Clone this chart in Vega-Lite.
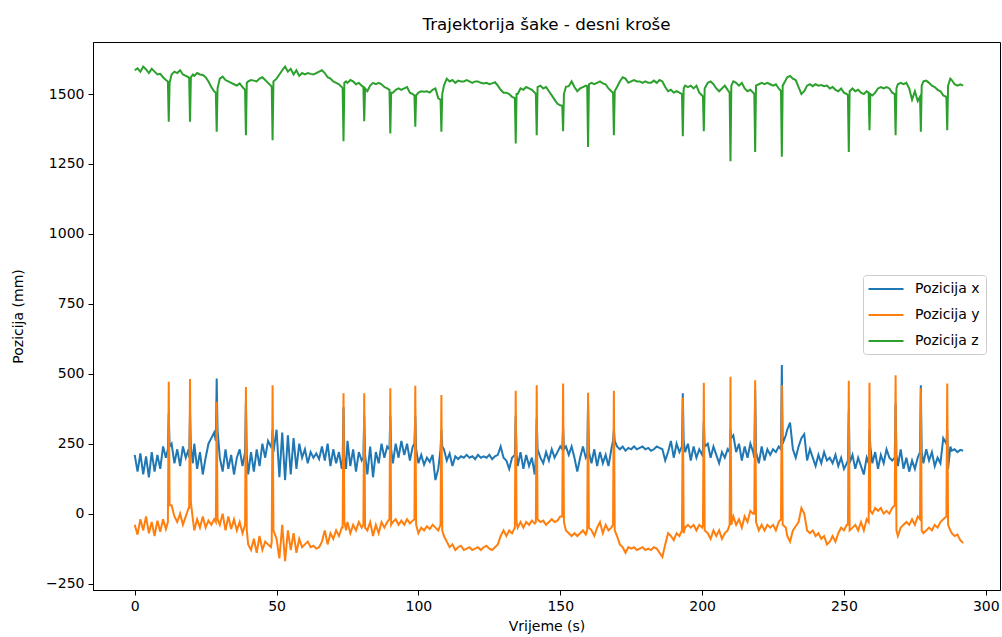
{
  "$schema": "https://vega.github.io/schema/vega-lite/v6.json",
  "width": 907,
  "height": 548,
  "autosize": "none",
  "padding": {"left": 93, "top": 42, "right": 2, "bottom": 47},
  "background": "white",
  "config": {
    "font": "DejaVu Sans",
    "view": {"stroke": "black", "strokeWidth": 1},
    "axis": {"grid": false, "domainColor": "black", "tickColor": "black", "tickSize": 5, "labelFontSize": 14, "labelColor": "black", "labelFont": "DejaVu Sans", "labelPadding": 4, "titleFontSize": 14, "titleFontWeight": "normal", "titleColor": "black", "titleFont": "DejaVu Sans"},
    "title": {"fontSize": 16.7, "fontWeight": "normal", "color": "black", "font": "DejaVu Sans", "offset": 8}
  },
  "title": {"text": "Trajektorija šake - desni kroše"},
  "data": {"values": [
    {"t":0,"x":210,"y":-40,"z":1585},{"t":1,"x":150,"y":-75,"z":1592},{"t":2,"x":215,"y":-20,"z":1580},{"t":3,"x":140,"y":-60,"z":1598},{"t":4,"x":205,"y":-10,"z":1588},{"t":5,"x":130,"y":-70,"z":1575},{"t":6,"x":220,"y":-30,"z":1590},{"t":7,"x":150,"y":-80,"z":1580},{"t":8,"x":210,"y":-25,"z":1570},{"t":9,"x":160,"y":-65,"z":1572},{"t":10,"x":240,"y":-20,"z":1560},{"t":11,"x":200,"y":-55,"z":1550},
    {"t":11.7,"x":230,"y":-30,"z":1545},{"t":12,"x":358,"y":471,"z":1401},{"t":12.3,"x":240,"y":30,"z":1540},
    {"t":13,"x":250,"y":30,"z":1570},{"t":14,"x":180,"y":-10,"z":1580},{"t":15,"x":230,"y":-30,"z":1575},{"t":16,"x":170,"y":0,"z":1585},{"t":17,"x":240,"y":-40,"z":1570},{"t":18,"x":200,"y":-10,"z":1565},{"t":19,"x":230,"y":20,"z":1560},
    {"t":19.2,"x":200,"y":20,"z":1555},{"t":19.5,"x":358,"y":481,"z":1401},{"t":19.8,"x":240,"y":40,"z":1560},
    {"t":20.5,"x":180,"y":-20,"z":1570},{"t":21,"x":250,"y":-60,"z":1565},{"t":22,"x":160,"y":-20,"z":1575},{"t":23,"x":220,"y":-50,"z":1570},{"t":24,"x":140,"y":-10,"z":1568},{"t":25,"x":200,"y":-50,"z":1560},{"t":26,"x":250,"y":-25,"z":1545},{"t":27,"x":270,"y":-40,"z":1525},{"t":28,"x":290,"y":-20,"z":1510},
    {"t":28.6,"x":260,"y":-30,"z":1505},{"t":28.9,"x":483,"y":400,"z":1365},{"t":29.2,"x":300,"y":-20,"z":1520},
    {"t":30,"x":200,"y":-40,"z":1555},{"t":31,"x":150,"y":0,"z":1562},{"t":32,"x":230,"y":-60,"z":1550},{"t":33,"x":160,"y":-10,"z":1545},{"t":34,"x":210,"y":-55,"z":1540},{"t":35,"x":140,"y":-20,"z":1535},{"t":36,"x":200,"y":-60,"z":1530},{"t":37,"x":230,"y":-30,"z":1538},{"t":38,"x":170,"y":-70,"z":1525},
    {"t":38.9,"x":220,"y":-40,"z":1515},{"t":39.2,"x":400,"y":453,"z":1353},{"t":39.5,"x":210,"y":-60,"z":1540},
    {"t":40,"x":140,"y":-110,"z":1545},{"t":41,"x":220,"y":-130,"z":1550},{"t":42,"x":150,"y":-90,"z":1548},{"t":43,"x":230,"y":-140,"z":1545},{"t":44,"x":170,"y":-80,"z":1555},{"t":45,"x":250,"y":-130,"z":1560},{"t":46,"x":200,"y":-100,"z":1550},{"t":47,"x":260,"y":-110,"z":1540},{"t":48,"x":240,"y":-120,"z":1530},
    {"t":48.3,"x":250,"y":-100,"z":1525},{"t":48.6,"x":300,"y":459,"z":1335},{"t":48.9,"x":220,"y":-60,"z":1545},
    {"t":50,"x":300,"y":-90,"z":1555},{"t":51,"x":130,"y":-160,"z":1570},{"t":52,"x":290,"y":-40,"z":1585},{"t":53,"x":120,"y":-170,"z":1598},{"t":54,"x":280,"y":-60,"z":1580},{"t":55,"x":140,"y":-130,"z":1590},{"t":56,"x":270,"y":-70,"z":1570},{"t":57,"x":160,"y":-140,"z":1585},{"t":58,"x":250,"y":-90,"z":1565},{"t":59,"x":200,"y":-120,"z":1575},{"t":60,"x":230,"y":-110,"z":1570},{"t":61,"x":180,"y":-100,"z":1575},{"t":62,"x":220,"y":-120,"z":1572},{"t":63,"x":200,"y":-115,"z":1570},{"t":64,"x":215,"y":-125,"z":1575},{"t":65,"x":195,"y":-120,"z":1580},
    {"t":66,"x":240,"y":-100,"z":1585},{"t":67,"x":190,"y":-60,"z":1575},{"t":68,"x":250,"y":-110,"z":1560},{"t":69,"x":170,"y":-70,"z":1555},{"t":70,"x":230,"y":-90,"z":1545},{"t":71,"x":180,"y":-60,"z":1540},{"t":72,"x":220,"y":-80,"z":1535},{"t":73,"x":160,"y":-50,"z":1525},
    {"t":73.3,"x":190,"y":-50,"z":1520},{"t":73.6,"x":380,"y":430,"z":1331},{"t":73.9,"x":200,"y":-30,"z":1540},
    {"t":74.5,"x":160,"y":-60,"z":1545},{"t":75,"x":260,"y":-30,"z":1540},{"t":76,"x":170,"y":-70,"z":1550},{"t":77,"x":230,"y":-40,"z":1545},{"t":78,"x":150,"y":-60,"z":1535},{"t":79,"x":220,"y":-30,"z":1540},{"t":80,"x":190,"y":-50,"z":1530},
    {"t":80.6,"x":200,"y":-40,"z":1525},{"t":80.9,"x":350,"y":430,"z":1403},{"t":81.2,"x":210,"y":-50,"z":1520},
    {"t":82,"x":140,"y":-60,"z":1510},{"t":83,"x":240,"y":-30,"z":1530},{"t":84,"x":130,"y":-80,"z":1540},{"t":85,"x":220,"y":-40,"z":1535},{"t":86,"x":180,"y":-70,"z":1540},{"t":87,"x":250,"y":-30,"z":1535},{"t":88,"x":200,"y":-50,"z":1525},{"t":89,"x":240,"y":-30,"z":1520},
    {"t":89.8,"x":230,"y":-20,"z":1515},{"t":90.1,"x":350,"y":448,"z":1359},{"t":90.4,"x":230,"y":-40,"z":1505},
    {"t":91,"x":180,"y":-30,"z":1505},{"t":92,"x":250,"y":-20,"z":1515},{"t":93,"x":200,"y":-40,"z":1520},{"t":94,"x":260,"y":-25,"z":1515},{"t":95,"x":210,"y":-40,"z":1520},{"t":96,"x":250,"y":-20,"z":1525},{"t":97,"x":190,"y":-35,"z":1505},{"t":98,"x":240,"y":-25,"z":1500},
    {"t":98.6,"x":250,"y":-20,"z":1495},{"t":98.9,"x":350,"y":457,"z":1383},{"t":99.2,"x":230,"y":-40,"z":1495},
    {"t":100,"x":180,"y":-70,"z":1505},{"t":101,"x":210,"y":-50,"z":1510},{"t":102,"x":175,"y":-60,"z":1508},{"t":103,"x":200,"y":-45,"z":1510},{"t":104,"x":185,"y":-55,"z":1505},{"t":105,"x":210,"y":-40,"z":1515},{"t":106,"x":120,"y":-50,"z":1520},{"t":107,"x":160,"y":-60,"z":1485},
    {"t":107.8,"x":230,"y":-40,"z":1480},{"t":108.1,"x":300,"y":424,"z":1365},{"t":108.4,"x":240,"y":-60,"z":1500},
    {"t":109,"x":230,"y":-80,"z":1530},{"t":110,"x":190,"y":-100,"z":1555},{"t":111,"x":215,"y":-120,"z":1545},{"t":112,"x":170,"y":-110,"z":1550},{"t":113,"x":205,"y":-130,"z":1540},{"t":114,"x":195,"y":-120,"z":1548},{"t":115,"x":205,"y":-115,"z":1545},{"t":116,"x":200,"y":-130,"z":1545},{"t":117,"x":210,"y":-125,"z":1550},{"t":118,"x":200,"y":-120,"z":1545},{"t":119,"x":205,"y":-130,"z":1540},{"t":120,"x":195,"y":-125,"z":1545},{"t":121,"x":210,"y":-120,"z":1545},{"t":122,"x":200,"y":-130,"z":1540},{"t":123,"x":205,"y":-120,"z":1538},{"t":124,"x":200,"y":-115,"z":1540},{"t":125,"x":210,"y":-125,"z":1535},{"t":126,"x":195,"y":-130,"z":1538},{"t":127,"x":205,"y":-120,"z":1542},{"t":128,"x":210,"y":-110,"z":1530},{"t":129,"x":240,"y":-80,"z":1515},{"t":130,"x":200,"y":-60,"z":1505},{"t":131,"x":190,"y":-80,"z":1505},{"t":132,"x":160,"y":-60,"z":1500},{"t":133,"x":200,"y":-70,"z":1490},
    {"t":134,"x":210,"y":-50,"z":1485},{"t":134.3,"x":350,"y":439,"z":1323},{"t":134.6,"x":210,"y":-30,"z":1500},
    {"t":135,"x":170,"y":-50,"z":1500},{"t":136,"x":220,"y":-30,"z":1520},{"t":137,"x":160,"y":-50,"z":1515},{"t":138,"x":210,"y":-30,"z":1525},{"t":139,"x":170,"y":-40,"z":1520},{"t":140,"x":200,"y":-25,"z":1515},{"t":141,"x":140,"y":-35,"z":1505},
    {"t":141.4,"x":200,"y":-30,"z":1500},{"t":141.7,"x":340,"y":459,"z":1353},{"t":142,"x":230,"y":-20,"z":1525},
    {"t":143,"x":200,"y":-30,"z":1530},{"t":144,"x":180,"y":-25,"z":1520},{"t":145,"x":220,"y":-40,"z":1525},{"t":146,"x":190,"y":-30,"z":1510},{"t":147,"x":230,"y":-20,"z":1495},{"t":148,"x":200,"y":-30,"z":1480},{"t":149,"x":220,"y":-25,"z":1465},{"t":150,"x":240,"y":-10,"z":1460},
    {"t":150.7,"x":230,"y":-10,"z":1458},{"t":151,"x":310,"y":465,"z":1367},{"t":151.3,"x":230,"y":-30,"z":1500},
    {"t":152,"x":240,"y":-60,"z":1526},{"t":153,"x":210,"y":-70,"z":1528},{"t":154,"x":240,"y":-80,"z":1545},{"t":155,"x":200,"y":-70,"z":1525},{"t":156,"x":150,"y":-80,"z":1510},{"t":157,"x":200,"y":-70,"z":1520},{"t":158,"x":240,"y":-60,"z":1525},{"t":159,"x":200,"y":-75,"z":1530},
    {"t":159.5,"x":210,"y":-60,"z":1528},{"t":159.8,"x":400,"y":432,"z":1311},{"t":160.1,"x":220,"y":-50,"z":1535},
    {"t":161,"x":180,"y":-60,"z":1540},{"t":162,"x":230,"y":-80,"z":1535},{"t":163,"x":170,"y":-50,"z":1540},{"t":164,"x":220,"y":-30,"z":1545},{"t":165,"x":180,"y":-70,"z":1538},{"t":166,"x":210,"y":-40,"z":1535},{"t":167,"x":170,"y":-60,"z":1520},{"t":168,"x":230,"y":-50,"z":1510},
    {"t":168.6,"x":260,"y":-40,"z":1505},{"t":168.9,"x":300,"y":439,"z":1353},{"t":169.2,"x":260,"y":-60,"z":1510},
    {"t":170,"x":240,"y":-80,"z":1525},{"t":171,"x":230,"y":-110,"z":1545},{"t":172,"x":240,"y":-120,"z":1560},{"t":173,"x":225,"y":-140,"z":1555},{"t":174,"x":235,"y":-120,"z":1540},{"t":175,"x":230,"y":-125,"z":1545},{"t":176,"x":240,"y":-120,"z":1550},{"t":177,"x":230,"y":-130,"z":1545},{"t":178,"x":235,"y":-125,"z":1545},{"t":179,"x":240,"y":-120,"z":1540},{"t":180,"x":230,"y":-130,"z":1545},{"t":181,"x":235,"y":-125,"z":1540},{"t":182,"x":225,"y":-130,"z":1540},{"t":183,"x":230,"y":-120,"z":1548},{"t":184,"x":240,"y":-125,"z":1540},{"t":185,"x":235,"y":-140,"z":1550},{"t":186,"x":230,"y":-155,"z":1545},{"t":187,"x":190,"y":-110,"z":1525},{"t":188,"x":220,"y":-70,"z":1510},{"t":189,"x":260,"y":-80,"z":1515},{"t":190,"x":200,"y":-95,"z":1505},{"t":191,"x":250,"y":-70,"z":1510},{"t":192,"x":220,"y":-80,"z":1505},
    {"t":192.9,"x":240,"y":-60,"z":1500},{"t":193.2,"x":430,"y":415,"z":1349},{"t":193.5,"x":260,"y":-70,"z":1520},
    {"t":194,"x":220,"y":-50,"z":1530},{"t":195,"x":250,"y":-40,"z":1525},{"t":196,"x":190,"y":-50,"z":1530},{"t":197,"x":240,"y":-40,"z":1520},{"t":198,"x":200,"y":-60,"z":1530},{"t":199,"x":230,"y":-40,"z":1505},{"t":200,"x":210,"y":-50,"z":1495},
    {"t":200.3,"x":230,"y":-40,"z":1490},{"t":200.6,"x":330,"y":468,"z":1367},{"t":200.9,"x":240,"y":-60,"z":1520},
    {"t":202,"x":250,"y":-70,"z":1540},{"t":203,"x":200,"y":-90,"z":1545},{"t":204,"x":240,"y":-60,"z":1535},{"t":205,"x":210,"y":-80,"z":1520},{"t":206,"x":180,"y":-60,"z":1510},{"t":207,"x":220,"y":-90,"z":1520},{"t":208,"x":200,"y":-70,"z":1530},{"t":209,"x":230,"y":-60,"z":1515},
    {"t":209.7,"x":220,"y":-40,"z":1505},{"t":210,"x":300,"y":489,"z":1260},{"t":210.3,"x":270,"y":-40,"z":1530},
    {"t":211,"x":280,"y":-10,"z":1545},{"t":212,"x":220,"y":-40,"z":1540},{"t":213,"x":250,"y":-20,"z":1530},{"t":214,"x":190,"y":-50,"z":1540},{"t":215,"x":240,"y":-10,"z":1520},{"t":216,"x":200,"y":-30,"z":1510},{"t":217,"x":250,"y":10,"z":1515},{"t":218,"x":220,"y":0,"z":1505},
    {"t":218.4,"x":200,"y":0,"z":1500},{"t":218.7,"x":440,"y":477,"z":1293},{"t":219,"x":220,"y":-30,"z":1530},
    {"t":220,"x":180,"y":-60,"z":1535},{"t":221,"x":240,"y":-40,"z":1540},{"t":222,"x":190,"y":-60,"z":1535},{"t":223,"x":230,"y":-40,"z":1540},{"t":224,"x":210,"y":-50,"z":1535},{"t":225,"x":230,"y":-40,"z":1530},{"t":226,"x":220,"y":-60,"z":1535},{"t":227,"x":240,"y":-30,"z":1520},
    {"t":227.8,"x":230,"y":-20,"z":1510},{"t":228.1,"x":531,"y":459,"z":1276},{"t":228.4,"x":250,"y":-40,"z":1530},
    {"t":229.5,"x":280,"y":-50,"z":1550},{"t":230,"x":300,"y":-80,"z":1560},{"t":231,"x":325,"y":-100,"z":1565},{"t":232,"x":230,"y":-60,"z":1555},{"t":233,"x":200,"y":-45,"z":1550},{"t":234,"x":240,"y":-30,"z":1525},{"t":235,"x":270,"y":20,"z":1500},{"t":236,"x":284,"y":0,"z":1510},{"t":237,"x":190,"y":-60,"z":1530},{"t":238,"x":230,"y":-70,"z":1535},{"t":239,"x":200,"y":-60,"z":1528},{"t":240,"x":170,"y":-80,"z":1535},{"t":241,"x":210,"y":-70,"z":1530},{"t":242,"x":180,"y":-90,"z":1532},{"t":243,"x":220,"y":-80,"z":1528},{"t":244,"x":190,"y":-110,"z":1530},{"t":245,"x":200,"y":-100,"z":1520},{"t":246,"x":180,"y":-80,"z":1525},{"t":247,"x":210,"y":-100,"z":1515},{"t":248,"x":170,"y":-70,"z":1510},{"t":249,"x":200,"y":-50,"z":1520},{"t":250,"x":160,"y":-60,"z":1505},{"t":251,"x":180,"y":-40,"z":1500},
    {"t":251.4,"x":190,"y":-40,"z":1495},{"t":251.7,"x":365,"y":475,"z":1293},{"t":252,"x":180,"y":-60,"z":1510},
    {"t":253,"x":210,"y":-50,"z":1520},{"t":254,"x":160,"y":-40,"z":1510},{"t":255,"x":200,"y":-60,"z":1515},{"t":256,"x":170,"y":-30,"z":1505},{"t":257,"x":140,"y":-60,"z":1500},{"t":258,"x":200,"y":-20,"z":1510},
    {"t":258.7,"x":180,"y":-30,"z":1505},{"t":259,"x":300,"y":468,"z":1371},{"t":259.3,"x":240,"y":10,"z":1500},
    {"t":260,"x":180,"y":0,"z":1495},{"t":261,"x":220,"y":20,"z":1505},{"t":262,"x":160,"y":10,"z":1520},{"t":263,"x":210,"y":20,"z":1525},{"t":264,"x":180,"y":0,"z":1520},{"t":265,"x":230,"y":10,"z":1525},{"t":266,"x":200,"y":0,"z":1520},{"t":267,"x":190,"y":20,"z":1505},
    {"t":267.9,"x":200,"y":30,"z":1500},{"t":268.2,"x":394,"y":495,"z":1353},{"t":268.5,"x":210,"y":-60,"z":1520},
    {"t":269,"x":170,"y":-80,"z":1535},{"t":270,"x":230,"y":-50,"z":1540},{"t":271,"x":160,"y":-40,"z":1535},{"t":272,"x":200,"y":-30,"z":1540},{"t":273,"x":150,"y":-40,"z":1520},{"t":274,"x":190,"y":-20,"z":1480},{"t":275,"x":160,"y":-40,"z":1510},{"t":276,"x":200,"y":-10,"z":1475},
    {"t":276.8,"x":220,"y":-20,"z":1490},{"t":277.1,"x":459,"y":448,"z":1365},{"t":277.4,"x":220,"y":-60,"z":1530},
    {"t":278,"x":180,"y":-70,"z":1545},{"t":279,"x":230,"y":-60,"z":1548},{"t":280,"x":190,"y":-50,"z":1540},{"t":281,"x":220,"y":-60,"z":1530},{"t":282,"x":170,"y":-40,"z":1525},{"t":283,"x":200,"y":-50,"z":1515},{"t":284,"x":180,"y":-30,"z":1510},{"t":285,"x":270,"y":-20,"z":1495},
    {"t":286.1,"x":250,"y":-10,"z":1490},{"t":286.4,"x":300,"y":465,"z":1371},{"t":286.7,"x":160,"y":-40,"z":1530},
    {"t":287.5,"x":240,"y":-60,"z":1555},{"t":288,"x":225,"y":-70,"z":1550},{"t":289,"x":230,"y":-80,"z":1535},{"t":290,"x":220,"y":-75,"z":1530},{"t":291,"x":228,"y":-95,"z":1535},{"t":292,"x":225,"y":-105,"z":1530}
  ]},
  "transform": [{"fold": ["x", "y", "z"], "as": ["serija", "v"]}],
  "mark": {"type": "line", "strokeWidth": 2, "clip": true},
  "encoding": {
    "x": {"field": "t", "type": "quantitative", "title": "Vrijeme (s)",
      "scale": {"domain": [-14.7, 305], "nice": false, "zero": false},
      "axis": {"values": [0, 50, 100, 150, 200, 250, 300], "format": "d", "titlePadding": 6}},
    "y": {"field": "v", "type": "quantitative", "title": "Pozicija (mm)",
      "scale": {"domain": [-273, 1686], "nice": false, "zero": false},
      "axis": {"values": [-250, 0, 250, 500, 750, 1000, 1250, 1500], "format": "d", "titlePadding": 20}},
    "color": {"field": "serija", "type": "nominal",
      "scale": {"domain": ["x", "y", "z"], "range": ["#1f77b4", "#ff7f0e", "#2ca02c"]},
      "legend": {"orient": "none", "legendX": 770, "legendY": 233, "title": null,
        "labelExpr": "'Pozicija ' + datum.label",
        "symbolType": "M-2.5,0H2.5", "symbolSize": 196, "symbolStrokeWidth": 2,
        "labelFontSize": 14, "labelFont": "DejaVu Sans", "labelColor": "black",
        "padding": 6, "rowPadding": 11, "symbolOffset": 9, "labelOffset": 21,
        "strokeColor": "#cccccc", "fillColor": "rgba(255,255,255,0.8)", "cornerRadius": 3}}
  }
}
